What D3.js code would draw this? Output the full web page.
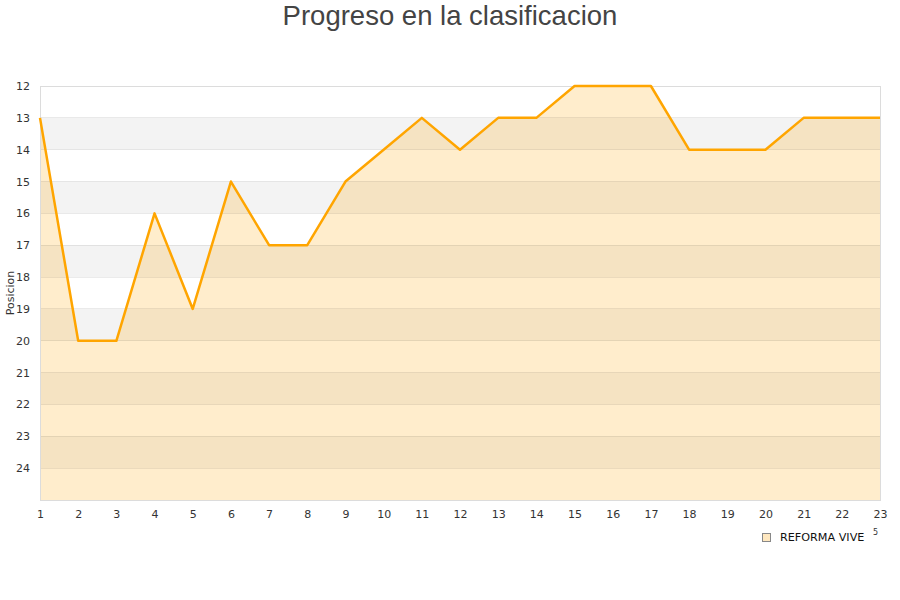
<!DOCTYPE html>
<html><head><meta charset="utf-8">
<script src="https://cdn.jsdelivr.net/npm/d3@7"></script>
<style>body{margin:0;background:#fff}svg{display:block}</style>
</head><body>
<svg id="c" width="900" height="600"></svg>
<script>
const jornadas = [1,2,3,4,5,6,7,8,9,10,11,12,13,14,15,16,17,18,19,20,21,22,23];
const posiciones = [13,20,20,16,19,15,17,17,15,14,13,14,13,13,12,12,12,14,14,14,13,13,13];
const yTicks = [12,13,14,15,16,17,18,19,20,21,22,23,24];
const seriesName = "REFORMA VIVE";
const titleText = "Progreso en la clasificacion";
const yTitle = "Posicion";

const svg = d3.select("#c");
const L = 40, R = 880, T = 86, B = 500;
const x = d3.scaleLinear().domain([1, 23]).range([L, R]);
const y = d3.scaleLinear().domain([12, 25]).range([T, B]);

// background bands
const bands = d3.range(12, 25);
svg.append("g").selectAll("rect").data(bands).join("rect")
  .attr("x", L).attr("width", R - L)
  .attr("y", d => y(d)).attr("height", d => y(d + 1) - y(d))
  .attr("fill", d => (d - 12) % 2 === 1 ? "#f3f3f3" : "#ffffff");

// area
const area = d3.area().x((d, i) => x(jornadas[i])).y0(y(25)).y1(d => y(d));
svg.append("path").datum(posiciones).attr("d", area)
  .attr("fill", "rgba(255,165,0,0.2)");

// gridlines
svg.append("g").selectAll("line").data(yTicks).join("line")
  .attr("x1", L).attr("x2", R).attr("y1", d => y(d)).attr("y2", d => y(d))
  .attr("stroke", "#000").attr("stroke-opacity", 0.08).attr("shape-rendering", "crispEdges");

// frame
svg.append("rect").attr("x", L + 0.5).attr("y", T + 0.5).attr("width", R - L).attr("height", B - T)
  .attr("fill", "none").attr("stroke", "#dcdcdc").attr("shape-rendering", "crispEdges");

// line
const line = d3.line().x((d, i) => x(jornadas[i])).y(d => y(d));
svg.append("path").datum(posiciones).attr("d", line)
  .attr("fill", "none").attr("stroke", "#ffa500").attr("stroke-width", 2.5).attr("stroke-linejoin", "round");

// axes
const yAxis = d3.axisLeft(y).tickValues(yTicks).tickSize(0).tickPadding(10);
const gy = svg.append("g").attr("transform", `translate(${L},0)`).call(yAxis);
gy.select(".domain").remove();
gy.selectAll("text").attr("font-family", "DejaVu Sans").attr("font-size", 11).attr("fill", "#333");

const xAxis = d3.axisBottom(x).tickValues(jornadas).tickSize(0).tickPadding(10);
const gx = svg.append("g").attr("transform", `translate(0,${B})`).call(xAxis);
gx.select(".domain").remove();
gx.selectAll("text").attr("font-family", "DejaVu Sans").attr("font-size", 11).attr("fill", "#333");

// title
svg.append("text").attr("x", 450).attr("y", 25).attr("text-anchor", "middle")
  .attr("font-family", "Liberation Sans, Arial, sans-serif").attr("font-size", 27.5).attr("fill", "#444")
  .text(titleText);

// y title
svg.append("text").attr("transform", "translate(14,293) rotate(-90)").attr("text-anchor", "middle")
  .attr("font-family", "DejaVu Sans").attr("font-size", 11).attr("fill", "#333").text(yTitle);

// legend
svg.append("rect").attr("x", 762.5).attr("y", 533.5).attr("width", 8).attr("height", 8)
  .attr("fill", "#ffe8c0").attr("stroke", "#888");
svg.append("text").attr("x", 780).attr("y", 541).attr("font-family", "DejaVu Sans").attr("font-size", 11.2)
  .attr("fill", "#111").text(seriesName);
svg.append("text").attr("x", 873).attr("y", 535).attr("font-family", "DejaVu Sans").attr("font-size", 8)
  .attr("fill", "#333").text("5");
</script>
</body></html>
